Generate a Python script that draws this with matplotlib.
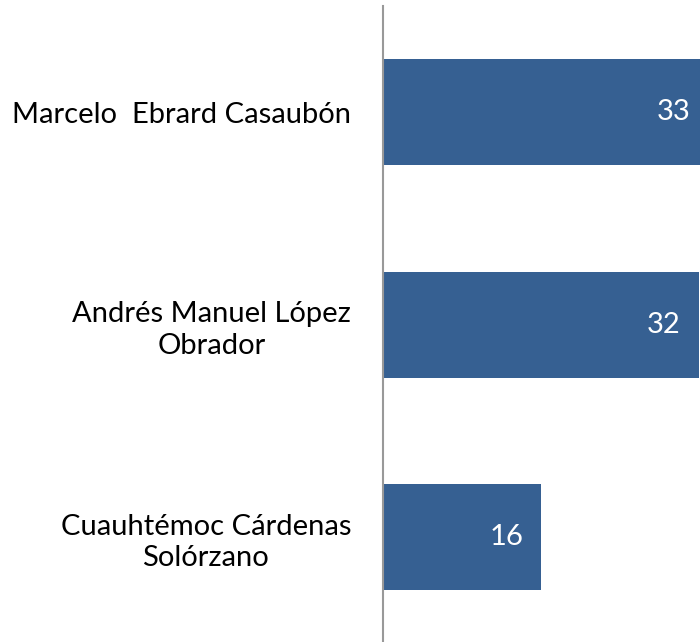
import matplotlib.pyplot as plt
import numpy as np

plt.rcParams['font.family'] = ['Lato', 'DejaVu Sans']

# candidates, top to bottom
names = ['Marcelo  Ebrard Casaubón',
         'Andrés Manuel López\nObrador',
         'Cuauhtémoc Cárdenas\nSolórzano']
values = [33, 32, 16]

bar_color = '#366092'

fig = plt.figure(figsize=(7.0, 6.42), dpi=100)
# axes runs off the right edge, like the original crop
ax = fig.add_axes([383 / 700, -1.5 / 642, 317 / 700, 637.5 / 642])

y = np.arange(len(names))
ax.barh(y, values, height=0.5, color=bar_color, zorder=2)

ax.set_ylim(len(names) - 0.5, -0.5)
ax.set_xlim(0, 32.1)

for yi, v in zip(y, values):
    ax.annotate(str(v), xy=(v, yi), xytext=(-18, 0), textcoords='offset pixels',
                ha='right', va='center', color='white', fontsize=21,
                annotation_clip=False, clip_on=False)

ax.set_yticks(y)
ax.set_yticklabels(names, fontsize=21, multialignment='center', linespacing=1.25)
ax.tick_params(axis='y', length=0, pad=23)
ax.set_xticks([])

for s in ['top', 'right', 'bottom']:
    ax.spines[s].set_visible(False)
ax.spines['left'].set_color('#999999')
ax.spines['left'].set_linewidth(1.5)
ax.spines['left'].set_bounds(-0.5 + 0.0, 2.5)

fig.savefig('out.png', dpi=100)
